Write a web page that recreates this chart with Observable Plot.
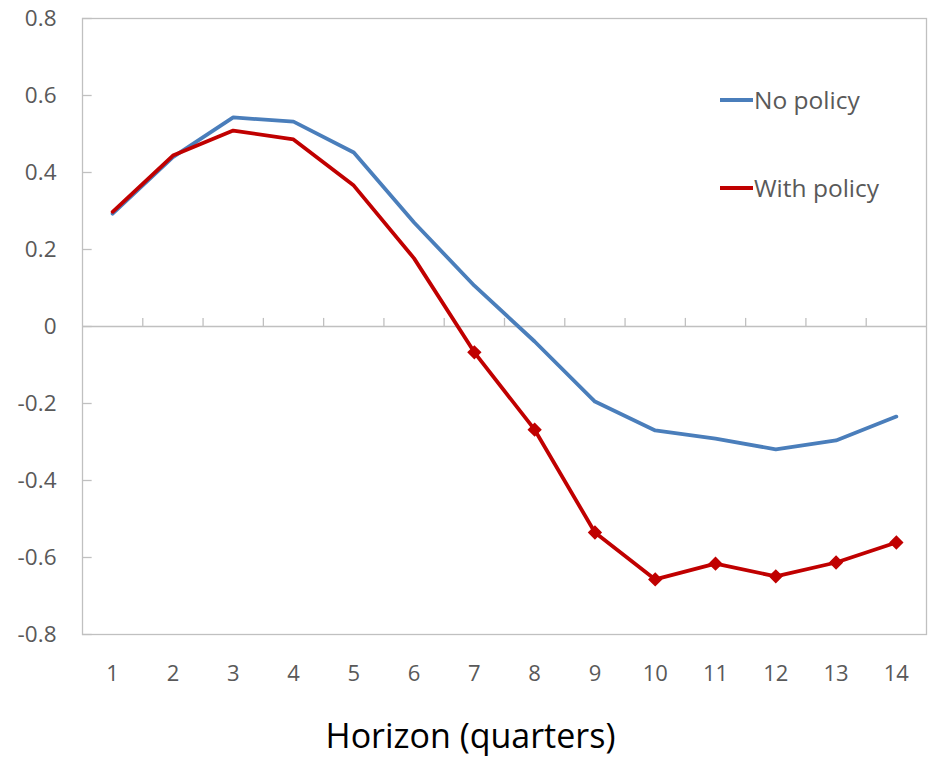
<!DOCTYPE html>
<html>
<head>
<meta charset="utf-8">
<script src="https://cdn.jsdelivr.net/npm/d3@7"></script>
<script src="https://cdn.jsdelivr.net/npm/@observablehq/plot@0.6"></script>
<style>
  body { margin: 0; background: #fff; }
  #wrap { position: relative; width: 928px; height: 757px; font-family: "Open Sans", sans-serif; }
  .legend { position: absolute; left: 720px; font-size: 24.5px; color: #595959; display: flex; align-items: center; line-height: 1; }
  .legend span.sw { display: inline-block; width: 33px; height: 3.8px; margin-right: 1px; }
</style>
</head>
<body>
<div id="wrap"></div>
<script>
const quarters = [1, 2, 3, 4, 5, 6, 7, 8, 9, 10, 11, 12, 13, 14];
const noPolicy = [0.293, 0.44, 0.543, 0.532, 0.452, 0.27, 0.106, -0.039, -0.195, -0.27, -0.291, -0.319, -0.296, -0.234];
const withPolicy = [0.298, 0.444, 0.509, 0.486, 0.366, 0.177, -0.067, -0.268, -0.535, -0.657, -0.616, -0.649, -0.613, -0.561];
const markerFrom = 7;
const yTicks = [-0.8, -0.6, -0.4, -0.2, 0, 0.2, 0.4, 0.6, 0.8];
const seriesNames = ["No policy", "With policy"];
const colors = ["#4a7ebb", "#c00000"];
const xTitle = "Horizon (quarters)";

const blue = quarters.map((q, i) => ({q, v: noPolicy[i]}));
const red = quarters.map((q, i) => ({q, v: withPolicy[i]}));
const boundaries = quarters.slice(0, -1).map(q => q + 0.5);

const chart = Plot.plot({
  width: 928,
  height: 757,
  marginLeft: 82,
  marginRight: 2,
  marginTop: 18,
  marginBottom: 123,
  style: {fontFamily: "Open Sans, sans-serif", background: "#fff"},
  x: {type: "linear", domain: [0.5, 14.5]},
  y: {domain: [-0.8, 0.8]},
  marks: [
    Plot.frame({stroke: "#c0c0c0", strokeWidth: 1.3}),
    Plot.ruleY([0], {stroke: "#c0c0c0", strokeWidth: 1.3}),
    Plot.ruleX(boundaries, {x: d => d, y1: 0, y2: 0.021, stroke: "#c0c0c0", strokeWidth: 1.3}),
    Plot.ruleY(yTicks, {y: d => d, x1: 0.5, x2: 0.66, stroke: "#c0c0c0", strokeWidth: 1.3}),
    Plot.axisY({ticks: yTicks, tickSize: 0, tickPadding: 26, fontSize: 22.5, fill: "#595959",
      tickFormat: d => d === 0 ? "0" : d.toFixed(1), label: null}),
    Plot.axisX({ticks: quarters, tickSize: 0, tickPadding: 31, fontSize: 22, fill: "#595959",
      tickFormat: d => String(d), label: null}),
    Plot.line(blue, {x: "q", y: "v", stroke: colors[0], strokeWidth: 3.8}),
    Plot.line(red, {x: "q", y: "v", stroke: colors[1], strokeWidth: 3.8}),
    Plot.dot(red.filter(d => d.q >= markerFrom), {x: "q", y: "v", symbol: "diamond2", r: 5.5, fill: colors[1], stroke: colors[1]}),
    Plot.text([xTitle], {frameAnchor: "bottom", text: d => d, dx: -34, dy: 113, fontSize: 34, fill: "#000"})
  ]
});
const wrap = document.getElementById("wrap");
wrap.appendChild(chart);
[[100, 0], [188, 1]].forEach(([cy, i]) => {
  const div = document.createElement("div");
  div.className = "legend";
  div.style.top = (cy - 12) + "px";
  div.innerHTML = `<span class="sw" style="background:${colors[i]}"></span>${seriesNames[i]}`;
  wrap.appendChild(div);
});
</script>
</body>
</html>
